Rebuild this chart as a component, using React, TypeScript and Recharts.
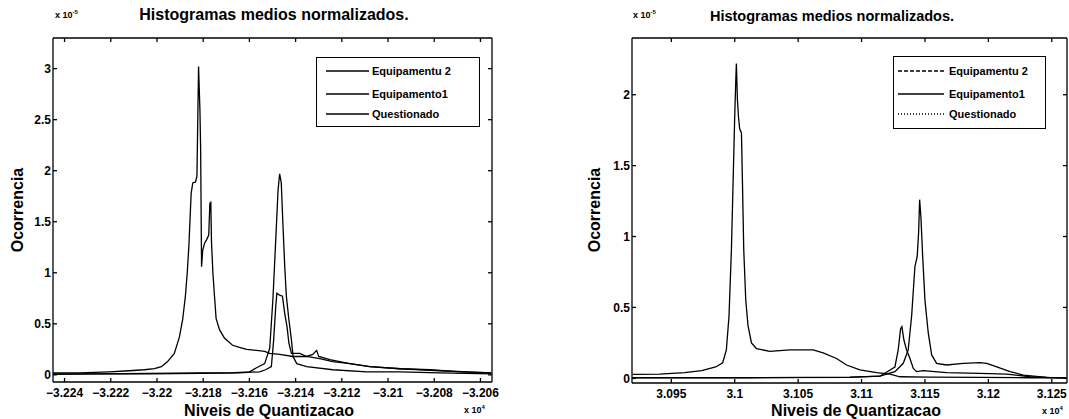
import { LineChart, Line, XAxis, YAxis, Legend } from 'recharts'

const FONT = '"Liberation Sans", Arial, Helvetica, sans-serif'

const seriesNames = ['Equipamentu 2', 'Equipamento1', 'Questionado']

// left panel: levels in units of 10^4, occurrence in units of 10^-5
const leftLevelsEq2 = [-3.22452, -3.22337, -3.22207, -3.2212, -3.22055, -3.22011, -3.21981, -3.21954, -3.21925, -3.21903, -3.21889, -3.21877, -3.21869, -3.21862, -3.21852, -3.21845, -3.21833, -3.21827, -3.2182, -3.21814, -3.21811, -3.21807, -3.21802, -3.21794, -3.21786, -3.21776, -3.21771, -3.21767, -3.21764, -3.21758, -3.21751, -3.21744, -3.21729, -3.21708, -3.21673, -3.21643, -3.21612, -3.21569, -3.21534, -3.21512, -3.21469, -3.21411, -3.21352, -3.21296, -3.21239, -3.21165, -3.21079, -3.20948, -3.20818, -3.20688, -3.20553]
const leftOccEq2 = [0.02, 0.02, 0.03, 0.04, 0.05, 0.06, 0.08, 0.13, 0.21, 0.37, 0.54, 0.77, 1.0, 1.26, 1.78, 1.88, 1.89, 1.95, 3.02, 2.59, 2.2, 1.06, 1.22, 1.29, 1.32, 1.37, 1.68, 1.69, 1.3, 1.0, 0.77, 0.55, 0.44, 0.36, 0.29, 0.27, 0.25, 0.24, 0.23, 0.21, 0.2, 0.18, 0.18, 0.16, 0.13, 0.11, 0.08, 0.06, 0.05, 0.03, 0.02]

const leftLevelsEq1 = [-3.22452, -3.2225, -3.22033, -3.21816, -3.21686, -3.21599, -3.21569, -3.21534, -3.21512, -3.21498, -3.21486, -3.21476, -3.21469, -3.21462, -3.21455, -3.21447, -3.2144, -3.21429, -3.21418, -3.21411, -3.21395, -3.21352, -3.21239, -3.21092, -3.20948, -3.20775, -3.20553]
const leftOccEq1 = [0.01, 0.01, 0.015, 0.02, 0.02, 0.03, 0.07, 0.11, 0.26, 0.75, 1.32, 1.81, 1.97, 1.88, 1.48, 1.06, 0.77, 0.54, 0.34, 0.18, 0.11, 0.08, 0.05, 0.03, 0.03, 0.02, 0.01]

const leftLevelsQuest = [-3.22452, -3.2225, -3.22033, -3.21816, -3.21643, -3.21556, -3.2153, -3.21505, -3.21495, -3.21486, -3.21481, -3.21469, -3.21457, -3.21447, -3.21437, -3.21429, -3.21418, -3.21382, -3.21352, -3.21326, -3.21309, -3.213, -3.21252, -3.21165, -3.21079, -3.20948, -3.20775, -3.20553]
const leftOccQuest = [0.005, 0.01, 0.01, 0.015, 0.02, 0.03, 0.05, 0.08, 0.34, 0.67, 0.8, 0.78, 0.77, 0.6, 0.47, 0.31, 0.21, 0.21, 0.18, 0.2, 0.24, 0.18, 0.15, 0.11, 0.08, 0.06, 0.04, 0.02]

// right panel
const rightLevelsEq2 = [3.09195, 3.09408, 3.09605, 3.09739, 3.0985, 3.09905, 3.09934, 3.09955, 3.09974, 3.09987, 3.1, 3.10008, 3.10013, 3.10021, 3.10029, 3.10039, 3.10053, 3.10061, 3.10071, 3.10087, 3.10105, 3.10132, 3.10171, 3.10276, 3.10434, 3.10566, 3.10618, 3.10697, 3.10803, 3.10882, 3.10987, 3.11119, 3.11224, 3.11303, 3.1154, 3.11934, 3.12329, 3.12613]
const rightOccEq2 = [0.028, 0.03, 0.04, 0.054, 0.08, 0.11, 0.2, 0.44, 0.91, 1.38, 1.85, 2.09, 2.22, 1.97, 1.85, 1.76, 1.73, 1.38, 0.91, 0.55, 0.37, 0.25, 0.21, 0.19, 0.2, 0.2, 0.2, 0.18, 0.14, 0.094, 0.059, 0.04, 0.03, 0.011, 0.008, 0.006, 0.004, 0.003]

const rightLevelsEq1 = [3.09195, 3.10118, 3.10908, 3.11145, 3.11263, 3.11329, 3.11368, 3.11395, 3.11421, 3.11439, 3.1145, 3.11458, 3.11468, 3.11482, 3.115, 3.11526, 3.11553, 3.11592, 3.11671, 3.11802, 3.11934, 3.11987, 3.12066, 3.12171, 3.12276, 3.12461, 3.12613]
const rightOccEq1 = [0.005, 0.005, 0.008, 0.015, 0.047, 0.106, 0.2, 0.44, 0.79, 0.86, 1.03, 1.26, 1.14, 0.86, 0.55, 0.32, 0.165, 0.106, 0.094, 0.106, 0.11, 0.106, 0.08, 0.047, 0.023, 0.007, 0.005]

const rightLevelsQuest = [3.09195, 3.10118, 3.10908, 3.11145, 3.11263, 3.11289, 3.11308, 3.11318, 3.11334, 3.11355, 3.11382, 3.11408, 3.11434, 3.11486, 3.11671, 3.11934, 3.12145, 3.12329, 3.1254, 3.12613]
const rightOccQuest = [0.003, 0.004, 0.006, 0.015, 0.08, 0.2, 0.35, 0.365, 0.27, 0.2, 0.14, 0.07, 0.047, 0.054, 0.04, 0.035, 0.03, 0.011, 0.003, 0.002]

const leftXTicks = [-3.224, -3.222, -3.22, -3.218, -3.216, -3.214, -3.212, -3.21, -3.208, -3.206]
const leftYTicks = [0, 0.5, 1, 1.5, 2, 2.5, 3]
const rightXTicks = [3.095, 3.1, 3.105, 3.11, 3.115, 3.12, 3.125]
const rightYTicks = [0, 0.5, 1, 1.5, 2]

const toPoints = (xs: number[], ys: number[]) => xs.map((x, i) => ({ x, y: ys[i] }))

const fmtX = (v: number) => String(Math.round(v * 1000) / 1000).replace('-', '\u2212')
const fmtY = (v: number) => String(v)
const noLabel = () => ''

const axisStroke = { stroke: '#000', strokeWidth: 1.3 }
const tickText = { fill: '#000', fontSize: 12, fontWeight: 700, fontFamily: FONT }

type Pt = { x: number; y: number }
type Series = { name: string; points: Pt[] }

function HistLegend({ payload, dashes, lineX, textX, rows }: any) {
  const items = [...(payload || [])].sort(
    (a: any, b: any) => seriesNames.indexOf(a.value) - seriesNames.indexOf(b.value)
  )
  return (
    <div
      style={{
        position: 'relative',
        width: '100%',
        height: '100%',
        boxSizing: 'border-box',
        border: '1.4px solid #000',
        background: '#fff',
      }}
    >
      {items.map((item: any, i: number) => (
        <div key={item.value}>
          <svg
            width={lineX[1] + 2}
            height={4}
            style={{ position: 'absolute', left: 0, top: rows[i] - 2 }}
          >
            <line
              x1={lineX[0]}
              x2={lineX[1]}
              y1={2}
              y2={2}
              stroke="#000"
              strokeWidth={1.3}
              strokeDasharray={dashes[i] || undefined}
            />
          </svg>
          <span
            style={{
              position: 'absolute',
              left: textX,
              top: rows[i],
              transform: 'translateY(-50%)',
              fontSize: 11,
              fontWeight: 700,
              fontFamily: FONT,
              whiteSpace: 'nowrap',
              lineHeight: 1,
            }}
          >
            {item.value}
          </span>
        </div>
      ))}
    </div>
  )
}

function Caption({ x, y, size, rotate, children }: any) {
  return (
    <div
      style={{
        position: 'absolute',
        left: x,
        top: y,
        transform: `translate(-50%, -50%)${rotate ? ` rotate(${rotate}deg)` : ''}`,
        fontSize: size,
        fontWeight: 700,
        fontFamily: FONT,
        whiteSpace: 'nowrap',
        lineHeight: 1,
      }}
    >
      {children}
    </div>
  )
}

function Exponent({ x, y, power }: any) {
  return (
    <div
      style={{
        position: 'absolute',
        left: x,
        top: y,
        fontSize: 9,
        fontFamily: FONT,
        fontWeight: 700,
        whiteSpace: 'nowrap',
        lineHeight: 1,
      }}
    >
      x 10<sup style={{ fontSize: 6 }}>{power}</sup>
    </div>
  )
}

function Panel(p: any) {
  const series: Series[] = p.series
  return (
    <div style={{ position: 'absolute', left: p.left, top: 0, width: p.width, height: 419 }}>
      <LineChart
        width={p.width}
        height={419}
        margin={{ top: 37, right: p.rightMargin - 1, bottom: 0, left: 0 }}
      >
        <XAxis
          xAxisId="b"
          dataKey="x"
          type="number"
          domain={p.xDomain}
          ticks={p.xTicks}
          interval={0}
          allowDataOverflow
          height={p.xAxisHeight}
          tickSize={-4}
          tickMargin={10}
          tickFormatter={fmtX}
          tick={tickText}
          axisLine={axisStroke}
          tickLine={axisStroke}
        />
        <XAxis
          xAxisId="t"
          orientation="top"
          dataKey="x"
          type="number"
          domain={p.xDomain}
          ticks={p.xTicks}
          interval={0}
          allowDataOverflow
          height={1}
          tickSize={-4}
          tickFormatter={noLabel}
          tick={tickText}
          axisLine={axisStroke}
          tickLine={axisStroke}
        />
        <YAxis
          yAxisId="l"
          type="number"
          domain={p.yDomain}
          ticks={p.yTicks}
          interval={0}
          allowDataOverflow
          width={p.yAxisWidth}
          tickSize={-4}
          tickMargin={6}
          tickFormatter={fmtY}
          tick={tickText}
          axisLine={axisStroke}
          tickLine={axisStroke}
        />
        <YAxis
          yAxisId="r"
          orientation="right"
          type="number"
          domain={p.yDomain}
          ticks={p.yTicks}
          interval={0}
          allowDataOverflow
          width={1}
          tickSize={-4}
          tickFormatter={noLabel}
          tick={tickText}
          axisLine={axisStroke}
          tickLine={axisStroke}
        />
        {series.map((s) => (
          <Line
            key={s.name}
            xAxisId="b"
            yAxisId="l"
            data={s.points}
            dataKey="y"
            name={s.name}
            type="linear"
            stroke="#000"
            strokeWidth={1.3}
            dot={false}
            activeDot={false}
            isAnimationActive={false}
          />
        ))}
        <Legend
          layout="vertical"
          align="center"
          verticalAlign="middle"
          wrapperStyle={p.legendBox}
          content={(props: any) => (
            <HistLegend
              payload={props.payload}
              dashes={p.legendDashes}
              lineX={p.legendLineX}
              textX={p.legendTextX}
              rows={p.legendRows}
            />
          )}
        />
      </LineChart>
      {p.children}
    </div>
  )
}

export default function App() {
  const leftSeries: Series[] = [
    { name: seriesNames[0], points: toPoints(leftLevelsEq2, leftOccEq2) },
    { name: seriesNames[1], points: toPoints(leftLevelsEq1, leftOccEq1) },
    { name: seriesNames[2], points: toPoints(leftLevelsQuest, leftOccQuest) },
  ]
  const rightSeries: Series[] = [
    { name: seriesNames[0], points: toPoints(rightLevelsEq2, rightOccEq2) },
    { name: seriesNames[1], points: toPoints(rightLevelsEq1, rightOccEq1) },
    { name: seriesNames[2], points: toPoints(rightLevelsQuest, rightOccQuest) },
  ]

  return (
    <div
      style={{
        position: 'absolute',
        left: 0,
        top: 0,
        width: 1069,
        height: 419,
        background: '#fff',
        overflow: 'hidden',
        color: '#000',
      }}
    >
      <Panel
        left={0}
        width={540}
        rightMargin={48}
        yAxisWidth={53}
        xAxisHeight={37}
        xDomain={[-3.2245, -3.2055]}
        yDomain={[-0.07, 3.3]}
        xTicks={leftXTicks}
        yTicks={leftYTicks}
        series={leftSeries}
        legendBox={{ left: 316, top: 57, width: 164, height: 70 }}
        legendDashes={['', '', '']}
        legendLineX={[9, 52]}
        legendTextX={55}
        legendRows={[13, 35.5, 56]}
      >
        <Caption x={274} y={15} size={16}>Histogramas medios normalizados.</Caption>
        <Exponent x={55} y={9} power="-5" />
        <Caption x={269} y={411} size={16}>Niveis de Quantizacao</Caption>
        <Exponent x={464} y={404} power="4" />
        <Caption x={18} y={210} size={16} rotate={-90}>Ocorrencia</Caption>
      </Panel>
      <Panel
        left={540}
        width={529}
        rightMargin={2}
        yAxisWidth={92}
        xAxisHeight={36}
        xDomain={[3.0919, 3.1262]}
        yDomain={[-0.033, 2.4]}
        xTicks={rightXTicks}
        yTicks={rightYTicks}
        series={rightSeries}
        legendBox={{ left: 353, top: 56, width: 153, height: 73 }}
        legendDashes={['4 2', '', '1 2']}
        legendLineX={[4, 50]}
        legendTextX={55}
        legendRows={[14, 37, 57]}
      >
        <Caption x={292} y={16} size={14.5}>Histogramas medios normalizados.</Caption>
        <Exponent x={93} y={9} power="-5" />
        <Caption x={316} y={411} size={16}>Niveis de Quantizacao</Caption>
        <Exponent x={502} y={405} power="4" />
        <Caption x={55} y={210} size={16} rotate={-90}>Ocorrencia</Caption>
      </Panel>
    </div>
  )
}
